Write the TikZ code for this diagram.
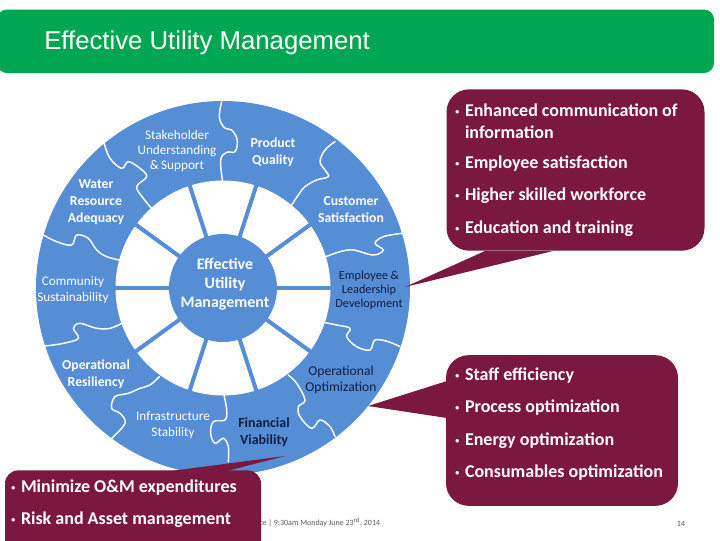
\documentclass[tikz,border=0pt]{standalone}
\usepackage{fontspec}
\setmainfont{Carlito}
\newfontfamily\titlefont{Liberation Sans}
\definecolor{ringblue}{HTML}{558ED5}
\definecolor{callout}{HTML}{7B1840}
\definecolor{barA}{HTML}{00A651}
\definecolor{darknavy}{HTML}{101F45}
\newcommand{\dotmark}{\makebox[7.3pt][l]{\raisebox{1.5pt}{\fontsize{6}{6}\selectfont•}}}
\tikzset{
 seam/.style={white,line width=1.1pt,line cap=round},
 spoke/.style={ringblue,line width=3pt},
 lightlabel/.style={white,align=center,font=\fontsize{9.9}{11.4}\selectfont},
 darklabel/.style={darknavy,align=center,font=\fontsize{10.2}{12}\selectfont},
 boldlabel/.style={white,align=center,font=\fontsize{10.3}{12.7}\selectfont\bfseries},
 bullet/.style={white,anchor=west,align=left,inner sep=0pt,font=\fontsize{13.5}{16.5}\selectfont\bfseries},
 tail/.style={fill=callout,draw=none},
}
\begin{document}
\begin{tikzpicture}[x=.75pt,y=-.75pt]
 \useasboundingbox (0,0) rectangle (720,540);
 \fill[white] (0,0) rectangle (720,540);
 % title bar
 \fill[barA,rounded corners=7.5pt] (-3,9.5) rectangle (714,73);
 \node[anchor=west,white,inner sep=0pt,font=\titlefont\fontsize{19.3}{22}\selectfont] (title) at (44,42.5) {Effective Utility Management};
 % wheel
 \coordinate (hub) at (223,288);
 \fill[ringblue] (hub) circle[radius=187];
 \fill[white] (hub) circle[radius=107.5];
 \foreach \ang in {0,36,...,324}
  \draw[spoke] (hub)--+(\ang:108);
 \fill[ringblue] (hub) circle[radius=54];
 % seams, from the rim to the white ring
 \begin{scope}[shift={(0,80)},scale=1/3]
 \foreach \pts in {
  {(665,65)(658,110)(672,142)(697,152)(712,182)(705,215)(680,217)(662,240)(668,305)},
  {(1005,185)(975,210)(960,245)(975,270)(985,290)(950,300)(915,320)(895,345)(875,375)},
  {(1205,460)(1150,470)(1125,490)(1150,510)(1120,525)(1060,510)(1020,515)(978,530)},
  {(1200,800)(1165,785)(1125,780)(1110,810)(1070,800)(1040,770)(1050,745)(1010,735)(975,728)},
  {(1005,1070)(990,1040)(960,1020)(935,1045)(900,1010)(895,980)(915,960)(890,910)(865,885)},
  {(685,1145)(685,1100)(670,1075)(645,1090)(632,1060)(640,1025)(675,1020)(680,990)(672,945)},
  {(335,1075)(375,1030)(360,1000)(335,985)(345,950)(385,940)(420,925)(450,915)(478,890)},
  {(135,798)(190,790)(235,775)(220,745)(240,730)(290,745)(330,745)(365,730)},
  {(130,465)(170,485)(215,495)(230,465)(265,475)(290,510)(320,530)(358,540)},
  {(312,188)(330,235)(365,265)(385,245)(420,265)(440,290)(410,320)(430,355)(455,385)}}
  \draw[seam] plot[smooth,tension=.6] coordinates \pts;
 \end{scope}
 % labels
 \path
 (225,284) node[white,align=center,font=\fontsize{12}{14.3}\selectfont\bfseries] (effective) {Effective\\Utility\\Management}
 (177,151) node[lightlabel] (stakeholder) {Stakeholder\\Understanding\\\&\,Support}
 (273,152) node[boldlabel] (product) {Product\\Quality}
 (96,202) node[boldlabel] (water) {Water\\Resource\\Adequacy}
 (351,210) node[boldlabel] (customer) {Customer\\Satisfaction}
 (73,290) node[lightlabel] (community) {Community\\Sustainability}
 (369,290) node[darklabel,font=\fontsize{9.2}{10.7}\selectfont] (employee) {Employee \&\\Leadership\\Development}
 (96,374) node[boldlabel] (resiliency) {Operational\\Resiliency}
 (341,380) node[darklabel] (optimization) {Operational\\Optimization}
 (173,425) node[lightlabel] (infrastructure) {Infrastructure\\Stability}
 (264,432.5) node[darklabel,font=\fontsize{10.5}{12.7}\selectfont\bfseries] (financial) {Financial\\Viability};
 % footer
 \node[anchor=west,inner sep=0pt,black!65,font=\fontsize{6}{7}\selectfont] (footer) at (259,522.5) {ce | 9:30am Monday June 23\textsuperscript{rd}, 2014};
 \node[inner sep=0pt,black!65,font=\fontsize{6}{7}\selectfont] (pagenum) at (681,524) {14};
 % callouts
 \node[fill=callout,rounded corners=17pt,minimum width=193.5pt,minimum height=121pt,inner sep=0pt] (topbox) at (575.5,170) {};
 \node[fill=callout,rounded corners=17pt,minimum width=174pt,minimum height=113pt,inner sep=0pt] (midbox) at (562,430.5) {};
 \node[fill=callout,rounded corners=10pt,minimum width=192pt,minimum height=70pt,inner sep=0pt] (lowbox) at (133,517) {};
 \coordinate (toptip) at (405,287);
 \coordinate (midtip) at (368,406);
 \coordinate (lowtip) at (285,456);
 \fill[tail] (toptip)--(485,251)--(553,251)--cycle;
 \fill[tail] (midtip)--(447,381)--(447,418)--cycle;
 \fill[tail] (lowtip)--(167,471.5)--(225,471.5)--cycle;
 \path
 (455,121) node[bullet] (topa) {\dotmark Enhanced communication of\\\hphantom{\dotmark}information}
 ++(0,43) node[bullet] (topb) {\dotmark Employee satisfaction}
 ++(0,32) node[bullet] (topc) {\dotmark Higher skilled workforce}
 ++(0,33) node[bullet] (topd) {\dotmark Education and training}
 (455,376) node[bullet] (mida) {\dotmark Staff efficiency}
 ++(0,32) node[bullet] (midb) {\dotmark Process optimization}
 ++(0,33) node[bullet] (midc) {\dotmark Energy optimization}
 ++(0,32) node[bullet] (midd) {\dotmark Consumables optimization}
 (11,488) node[bullet] (lowa) {\dotmark Minimize O\&M expenditures}
 ++(0,32) node[bullet] (lowb) {\dotmark Risk and Asset management};
\end{tikzpicture}
\end{document}
